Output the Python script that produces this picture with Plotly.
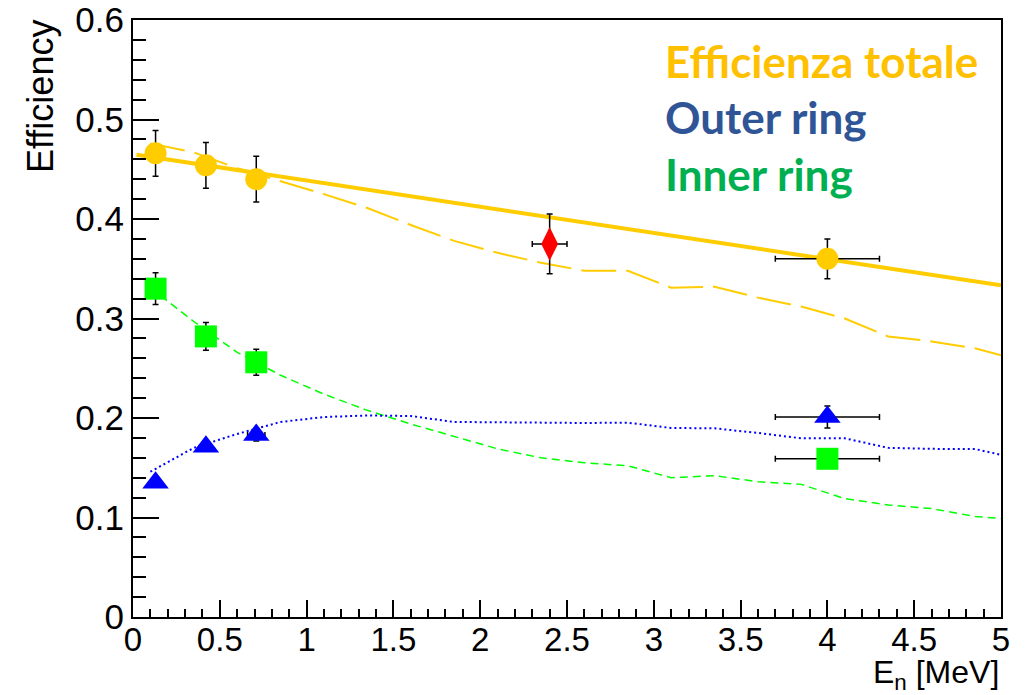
import plotly.graph_objects as go

# ---------------- data ----------------
# Measured points (x = neutron energy in MeV)
meas_energy = [0.13, 0.42, 0.71, 4.0]
total_eff = [0.466, 0.454, 0.440, 0.360]
total_err_y = [0.023, 0.023, 0.023, 0.020]
total_err_x = [0.0, 0.0, 0.0, 0.3]

outer_eff = [0.135, 0.171, 0.183, 0.201]
outer_err_y = [0.004, 0.004, 0.006, 0.011]
outer_err_x = [0.0, 0.0, 0.05, 0.3]

inner_eff = [0.330, 0.282, 0.256, 0.159]
inner_err_y = [0.016, 0.014, 0.013, 0.006]
inner_err_x = [0.0, 0.0, 0.0, 0.3]

# Extra point (red diamond)
extra_energy = [2.4]
extra_eff = [0.375]
extra_err_y = [0.030]
extra_err_x = [0.1]

# Linear fit to total efficiency (end points)
fit_energy = [0.02, 5.0]
fit_eff = [0.4645, 0.3333]

# Simulated curves
sim_energy = [0.1, 0.35, 0.6, 0.85, 1.1, 1.35, 1.6, 1.85, 2.1, 2.35, 2.6,
              2.85, 3.1, 3.35, 3.6, 3.85, 4.1, 4.35, 4.6, 4.85, 5.0]
sim_total = [0.476, 0.467, 0.451, 0.438, 0.425, 0.411, 0.394, 0.378, 0.366,
             0.356, 0.348, 0.348, 0.331, 0.332, 0.321, 0.312, 0.300, 0.282,
             0.277, 0.270, 0.263]
sim_outer = [0.146, 0.170, 0.184, 0.196, 0.201, 0.2025, 0.202, 0.196, 0.1957,
             0.195, 0.195, 0.1953, 0.190, 0.1896, 0.185, 0.1796, 0.1796,
             0.170, 0.169, 0.1688, 0.163]
sim_inner = [0.331, 0.297, 0.266, 0.243, 0.224, 0.2077, 0.194, 0.1815, 0.169,
             0.160, 0.155, 0.152, 0.140, 0.142, 0.136, 0.1333, 0.119, 0.1126,
             0.109, 0.101, 0.099]

legend_texts = ["Efficienza totale", "Outer ring", "Inner ring"]
legend_colors = ["#FFC000", "#2F5597", "#00B050"]

x_title = "E<sub>n</sub> [MeV]"
y_title = "Efficiency"

# ---------------- styling ----------------
ORANGE = "#FFCC00"
GREEN = "#00FF00"
BLUE = "#0000FF"
RED = "#FF0000"

W, H = 1025, 695
L, R, T, B = 133, 24, 20, 78
PW, PH = W - L - R, H - T - B


def px(X):
    return (X - L) / PW


def py(Y):
    return (H - B - Y) / PH


def err(arr):
    return dict(type="data", array=arr, color="black", thickness=1.5, width=3)


fig = go.Figure()

fig.add_trace(go.Scatter(x=sim_energy, y=sim_total, mode="lines",
                         line=dict(color=ORANGE, width=2, dash="35px,10px"),
                         showlegend=False))
fig.add_trace(go.Scatter(x=sim_energy, y=sim_inner, mode="lines",
                         line=dict(color=GREEN, width=1.5, dash="8px,5px"),
                         showlegend=False))
fig.add_trace(go.Scatter(x=sim_energy, y=sim_outer, mode="lines",
                         line=dict(color=BLUE, width=2, dash="2px,3px"),
                         showlegend=False))
fig.add_trace(go.Scatter(x=fit_energy, y=fit_eff, mode="lines",
                         line=dict(color=ORANGE, width=4), showlegend=False))

fig.add_trace(go.Scatter(x=meas_energy, y=total_eff, mode="markers",
                         marker=dict(symbol="circle", size=22, color=ORANGE,
                                     line=dict(width=0)),
                         error_y=err(total_err_y), error_x=err(total_err_x),
                         showlegend=False))
fig.add_trace(go.Scatter(x=meas_energy, y=inner_eff, mode="markers",
                         marker=dict(symbol="square", size=22, color=GREEN,
                                     line=dict(width=0)),
                         error_y=err(inner_err_y), error_x=err(inner_err_x),
                         showlegend=False))
fig.add_trace(go.Scatter(x=meas_energy, y=outer_eff, mode="markers",
                         marker=dict(symbol="triangle-up", size=23, color=BLUE,
                                     line=dict(width=0)),
                         error_y=err(outer_err_y), error_x=err(outer_err_x),
                         showlegend=False))
fig.add_trace(go.Scatter(x=extra_energy, y=extra_eff, mode="markers",
                         marker=dict(symbol="diamond-tall", size=24, color=RED,
                                     line=dict(width=0)),
                         error_y=err(extra_err_y), error_x=err(extra_err_x),
                         showlegend=False))

axis_common = dict(showgrid=False, zeroline=False, showline=True,
                   linecolor="black", linewidth=2, mirror=True,
                   ticks="inside", tickcolor="black", tickwidth=1.5,
                   automargin=False)

fig.update_xaxes(range=[0, 5], dtick=0.5, tick0=0, ticklen=17,
                 ticklabelstandoff=-8,
                 tickfont=dict(family="Liberation Sans", size=33, color="black"),
                 minor=dict(dtick=0.1, ticklen=8, ticks="inside",
                            tickcolor="black", tickwidth=1.5),
                 **axis_common)
fig.update_yaxes(range=[0, 0.6], dtick=0.1, tick0=0, ticklen=26,
                 tickfont=dict(family="Liberation Sans", size=35, color="black"),
                 minor=dict(dtick=0.02, ticklen=13, ticks="inside",
                            tickcolor="black", tickwidth=1.5),
                 **axis_common)

annotations = []
legend_baselines = [77, 133, 190]
for txt, col, base in zip(legend_texts, legend_colors, legend_baselines):
    annotations.append(dict(text=txt, xref="paper", yref="paper",
                            x=px(663), y=py(base - 16), xanchor="left",
                            yanchor="middle", showarrow=False,
                            font=dict(family="Lato", size=44, color=col,
                                      weight="bold")))

annotations.append(dict(text=x_title, xref="paper", yref="paper",
                        x=px(1001), y=py(652), xanchor="right", yanchor="top",
                        showarrow=False,
                        font=dict(family="Liberation Sans", size=32,
                                  color="black")))
annotations.append(dict(text=y_title, xref="paper", yref="paper",
                        x=px(40.5), y=py(18), xanchor="center", yanchor="top",
                        textangle=-90, showarrow=False,
                        font=dict(family="Liberation Sans", size=36,
                                  color="black")))

fig.update_layout(width=W, height=H,
                  margin=dict(l=L, r=R, t=T, b=B, pad=0, autoexpand=False),
                  paper_bgcolor="white", plot_bgcolor="white",
                  annotations=annotations, showlegend=False)

fig.write_html("out.html")
